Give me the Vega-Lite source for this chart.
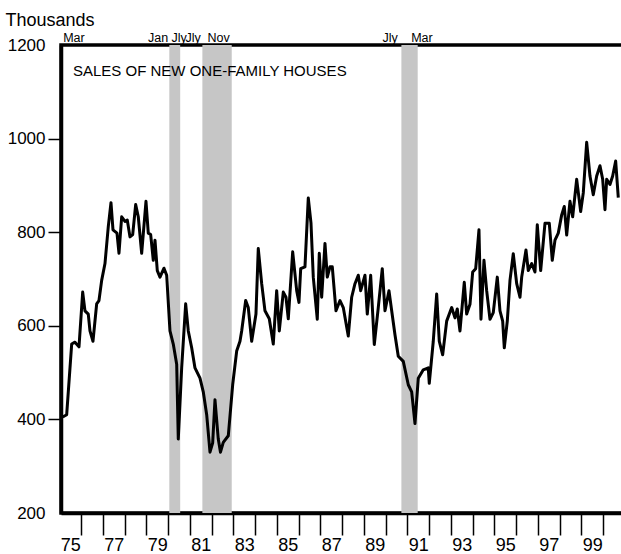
{
  "$schema": "https://vega.github.io/schema/vega-lite/v6.json",
  "width": 563,
  "height": 468,
  "autosize": {"type": "none"},
  "padding": {"left": 61, "top": 45, "right": 0, "bottom": 41},
  "background": "white",
  "config": {
    "view": {"stroke": "black", "strokeWidth": 3.5},
    "font": "Liberation Sans",
    "text": {"font": "Liberation Sans", "color": "black"}
  },
  "datasets": {
    "sales": [
      {"date": 1975.147, "sales": 405}, {"date": 1975.331, "sales": 410}, {"date": 1975.561, "sales": 561},
      {"date": 1975.713, "sales": 565}, {"date": 1975.897, "sales": 555}, {"date": 1976.067, "sales": 672},
      {"date": 1976.172, "sales": 632}, {"date": 1976.324, "sales": 625}, {"date": 1976.402, "sales": 589},
      {"date": 1976.540, "sales": 567}, {"date": 1976.710, "sales": 647}, {"date": 1976.816, "sales": 654},
      {"date": 1976.940, "sales": 697}, {"date": 1977.092, "sales": 733}, {"date": 1977.244, "sales": 812},
      {"date": 1977.368, "sales": 863}, {"date": 1977.460, "sales": 805}, {"date": 1977.644, "sales": 798},
      {"date": 1977.736, "sales": 755}, {"date": 1977.860, "sales": 833}, {"date": 1978.011, "sales": 823},
      {"date": 1978.117, "sales": 826}, {"date": 1978.241, "sales": 790}, {"date": 1978.366, "sales": 795},
      {"date": 1978.503, "sales": 859}, {"date": 1978.623, "sales": 833}, {"date": 1978.779, "sales": 755},
      {"date": 1978.977, "sales": 866}, {"date": 1979.083, "sales": 798}, {"date": 1979.193, "sales": 795},
      {"date": 1979.313, "sales": 740}, {"date": 1979.391, "sales": 783}, {"date": 1979.497, "sales": 718},
      {"date": 1979.621, "sales": 704}, {"date": 1979.805, "sales": 723}, {"date": 1979.929, "sales": 708},
      {"date": 1980.080, "sales": 589}, {"date": 1980.232, "sales": 561}, {"date": 1980.389, "sales": 518},
      {"date": 1980.462, "sales": 358}, {"date": 1980.618, "sales": 510}, {"date": 1980.802, "sales": 647},
      {"date": 1980.922, "sales": 589}, {"date": 1981.078, "sales": 553}, {"date": 1981.230, "sales": 510},
      {"date": 1981.460, "sales": 488}, {"date": 1981.611, "sales": 459}, {"date": 1981.768, "sales": 410},
      {"date": 1981.920, "sales": 330}, {"date": 1982.044, "sales": 350}, {"date": 1982.149, "sales": 442},
      {"date": 1982.301, "sales": 358}, {"date": 1982.402, "sales": 330}, {"date": 1982.531, "sales": 351},
      {"date": 1982.761, "sales": 365}, {"date": 1982.963, "sales": 474}, {"date": 1983.147, "sales": 546},
      {"date": 1983.299, "sales": 567}, {"date": 1983.377, "sales": 589}, {"date": 1983.561, "sales": 654},
      {"date": 1983.680, "sales": 639}, {"date": 1983.837, "sales": 567}, {"date": 1984.034, "sales": 625},
      {"date": 1984.140, "sales": 765}, {"date": 1984.297, "sales": 690}, {"date": 1984.448, "sales": 632},
      {"date": 1984.646, "sales": 615}, {"date": 1984.830, "sales": 561}, {"date": 1984.986, "sales": 675},
      {"date": 1985.106, "sales": 589}, {"date": 1985.290, "sales": 672}, {"date": 1985.414, "sales": 661},
      {"date": 1985.520, "sales": 615}, {"date": 1985.722, "sales": 758}, {"date": 1985.906, "sales": 675},
      {"date": 1986.011, "sales": 650}, {"date": 1986.090, "sales": 722}, {"date": 1986.287, "sales": 726},
      {"date": 1986.439, "sales": 873}, {"date": 1986.563, "sales": 820}, {"date": 1986.669, "sales": 704},
      {"date": 1986.853, "sales": 614}, {"date": 1986.945, "sales": 755}, {"date": 1987.055, "sales": 661},
      {"date": 1987.207, "sales": 776}, {"date": 1987.313, "sales": 704}, {"date": 1987.437, "sales": 726},
      {"date": 1987.543, "sales": 726}, {"date": 1987.713, "sales": 632}, {"date": 1987.897, "sales": 654},
      {"date": 1988.048, "sales": 639}, {"date": 1988.278, "sales": 578}, {"date": 1988.434, "sales": 661},
      {"date": 1988.586, "sales": 690}, {"date": 1988.738, "sales": 708}, {"date": 1988.848, "sales": 675},
      {"date": 1989.046, "sales": 708}, {"date": 1989.152, "sales": 625}, {"date": 1989.308, "sales": 708},
      {"date": 1989.474, "sales": 560}, {"date": 1989.657, "sales": 639}, {"date": 1989.841, "sales": 722},
      {"date": 1989.966, "sales": 632}, {"date": 1990.149, "sales": 675}, {"date": 1990.274, "sales": 632},
      {"date": 1990.425, "sales": 581}, {"date": 1990.577, "sales": 535}, {"date": 1990.807, "sales": 524},
      {"date": 1991.037, "sales": 474}, {"date": 1991.193, "sales": 459}, {"date": 1991.345, "sales": 391},
      {"date": 1991.497, "sales": 488}, {"date": 1991.726, "sales": 506}, {"date": 1991.956, "sales": 510},
      {"date": 1992.002, "sales": 477}, {"date": 1992.186, "sales": 567}, {"date": 1992.343, "sales": 668},
      {"date": 1992.462, "sales": 567}, {"date": 1992.618, "sales": 538}, {"date": 1992.802, "sales": 610},
      {"date": 1993.032, "sales": 639}, {"date": 1993.184, "sales": 617}, {"date": 1993.290, "sales": 636},
      {"date": 1993.414, "sales": 589}, {"date": 1993.611, "sales": 693}, {"date": 1993.722, "sales": 625},
      {"date": 1993.874, "sales": 646}, {"date": 1993.998, "sales": 715}, {"date": 1994.136, "sales": 722},
      {"date": 1994.287, "sales": 805}, {"date": 1994.379, "sales": 614}, {"date": 1994.517, "sales": 740},
      {"date": 1994.641, "sales": 675}, {"date": 1994.793, "sales": 614}, {"date": 1994.945, "sales": 628},
      {"date": 1995.129, "sales": 704}, {"date": 1995.253, "sales": 632}, {"date": 1995.377, "sales": 610},
      {"date": 1995.451, "sales": 553}, {"date": 1995.589, "sales": 610}, {"date": 1995.713, "sales": 697},
      {"date": 1995.864, "sales": 754}, {"date": 1996.021, "sales": 690}, {"date": 1996.172, "sales": 661},
      {"date": 1996.251, "sales": 704}, {"date": 1996.448, "sales": 762}, {"date": 1996.554, "sales": 718},
      {"date": 1996.710, "sales": 733}, {"date": 1996.862, "sales": 715}, {"date": 1996.968, "sales": 816},
      {"date": 1997.124, "sales": 718}, {"date": 1997.322, "sales": 819}, {"date": 1997.520, "sales": 819},
      {"date": 1997.657, "sales": 740}, {"date": 1997.782, "sales": 783}, {"date": 1997.933, "sales": 798},
      {"date": 1998.090, "sales": 837}, {"date": 1998.209, "sales": 855}, {"date": 1998.320, "sales": 794},
      {"date": 1998.471, "sales": 866}, {"date": 1998.595, "sales": 833}, {"date": 1998.779, "sales": 913},
      {"date": 1998.963, "sales": 844}, {"date": 1999.083, "sales": 884}, {"date": 1999.239, "sales": 992},
      {"date": 1999.391, "sales": 920}, {"date": 1999.542, "sales": 880}, {"date": 1999.699, "sales": 920},
      {"date": 1999.851, "sales": 942}, {"date": 1999.975, "sales": 913}, {"date": 2000.080, "sales": 848},
      {"date": 2000.159, "sales": 913}, {"date": 2000.310, "sales": 902}, {"date": 2000.434, "sales": 920},
      {"date": 2000.572, "sales": 952}, {"date": 2000.692, "sales": 874}
    ],
    "recessions": [
      {"date": 1980.05, "end": 1980.55},
      {"date": 1981.57, "end": 1982.92},
      {"date": 1990.72, "end": 1991.47}
    ],
    "turns": [
      {"date": 1975.17, "label": "Mar"},
      {"date": 1980.0, "label": "Jan"},
      {"date": 1980.5, "label": "Jly"},
      {"date": 1981.5, "label": "Jly"},
      {"date": 1982.83, "label": "Nov"},
      {"date": 1990.55, "label": "Jly"},
      {"date": 1991.17, "label": "Mar"}
    ]
  },
  "encoding": {
    "x": {
      "field": "date", "type": "quantitative", "title": null,
      "scale": {"domain": [1975.07, 2000.955], "nice": false, "zero": false},
      "axis": {
        "title": null,
        "values": [1975.5, 1976, 1977, 1977.5, 1978, 1979, 1979.5, 1980, 1981, 1981.5, 1982, 1983, 1983.5, 1984, 1985, 1985.5, 1986, 1987, 1987.5, 1988, 1989, 1989.5, 1990, 1991, 1991.5, 1992, 1993, 1993.5, 1994, 1995, 1995.5, 1996, 1997, 1997.5, 1998, 1999, 1999.5, 2000],
        "labelExpr": "datum.value % 1 === 0 ? '' : substring(toString(floor(datum.value)), 2)",
        "labelFontSize": 18,
        "labelColor": "black",
        "labelPadding": 1,
        "labelFlush": false,
        "labelOverlap": false,
        "tickSize": 22,
        "tickWidth": 1.5,
        "tickColor": "black",
        "tickOpacity": {"condition": {"test": "datum.value % 1 === 0", "value": 1}, "value": 0},
        "domainColor": "black",
        "domainWidth": 3.5,
        "grid": false
      }
    }
  },
  "layer": [
    {
      "data": {"name": "recessions"},
      "mark": {"type": "rect", "color": "#c6c6c6"},
      "encoding": {"x2": {"field": "end"}}
    },
    {
      "encoding": {
        "y": {
          "field": "sales", "type": "quantitative",
          "scale": {"domain": [200, 1200], "nice": false, "zero": false},
          "axis": {
            "values": [200, 400, 600, 800, 1000, 1200],
            "format": "d",
            "title": "Thousands",
            "titleAngle": 0,
            "titleAlign": "left",
            "titleBaseline": "alphabetic",
            "titleX": -56,
            "titleY": -20,
            "titleFontSize": 18,
            "titleFontWeight": "normal",
            "titleColor": "black",
            "labelFontSize": 17,
            "labelColor": "black",
            "labelPadding": 3,
            "labelFlush": false,
            "labelOverlap": false,
            "tickSize": 13,
            "tickWidth": 1.5,
            "tickColor": "black",
            "tickOpacity": {"condition": {"test": "datum.value === 200 || datum.value === 1200", "value": 0}, "value": 1},
            "domainColor": "black",
            "domainWidth": 3.5,
            "grid": false
          }
        }
      },
      "layer": [
        {
          "data": {"name": "sales"},
          "mark": {"type": "line", "color": "black", "strokeWidth": 3, "strokeJoin": "round", "clip": true}
        },
        {
          "data": {"values": [{"date": 1975.62, "sales": 1134, "label": "SALES OF NEW ONE-FAMILY HOUSES"}]},
          "mark": {"type": "text", "align": "left", "baseline": "alphabetic", "fontSize": 15},
          "encoding": {"text": {"field": "label"}}
        }
      ]
    },
    {
      "data": {"name": "turns"},
      "transform": [{"filter": "datum.label === 'Mar'"}],
      "mark": {"type": "text", "align": "left", "baseline": "alphabetic", "dy": -3, "fontSize": 12.5},
      "encoding": {"y": {"value": 0}, "text": {"field": "label"}}
    },
    {
      "data": {"name": "turns"},
      "transform": [{"filter": "datum.date === 1980.5"}],
      "mark": {"type": "text", "align": "center", "baseline": "alphabetic", "dy": -3, "fontSize": 12.5},
      "encoding": {"y": {"value": 0}, "text": {"field": "label"}}
    },
    {
      "data": {"name": "turns"},
      "transform": [{"filter": "datum.label !== 'Mar' && datum.date !== 1980.5"}],
      "mark": {"type": "text", "align": "right", "baseline": "alphabetic", "dy": -3, "fontSize": 12.5},
      "encoding": {"y": {"value": 0}, "text": {"field": "label"}}
    }
  ]
}
